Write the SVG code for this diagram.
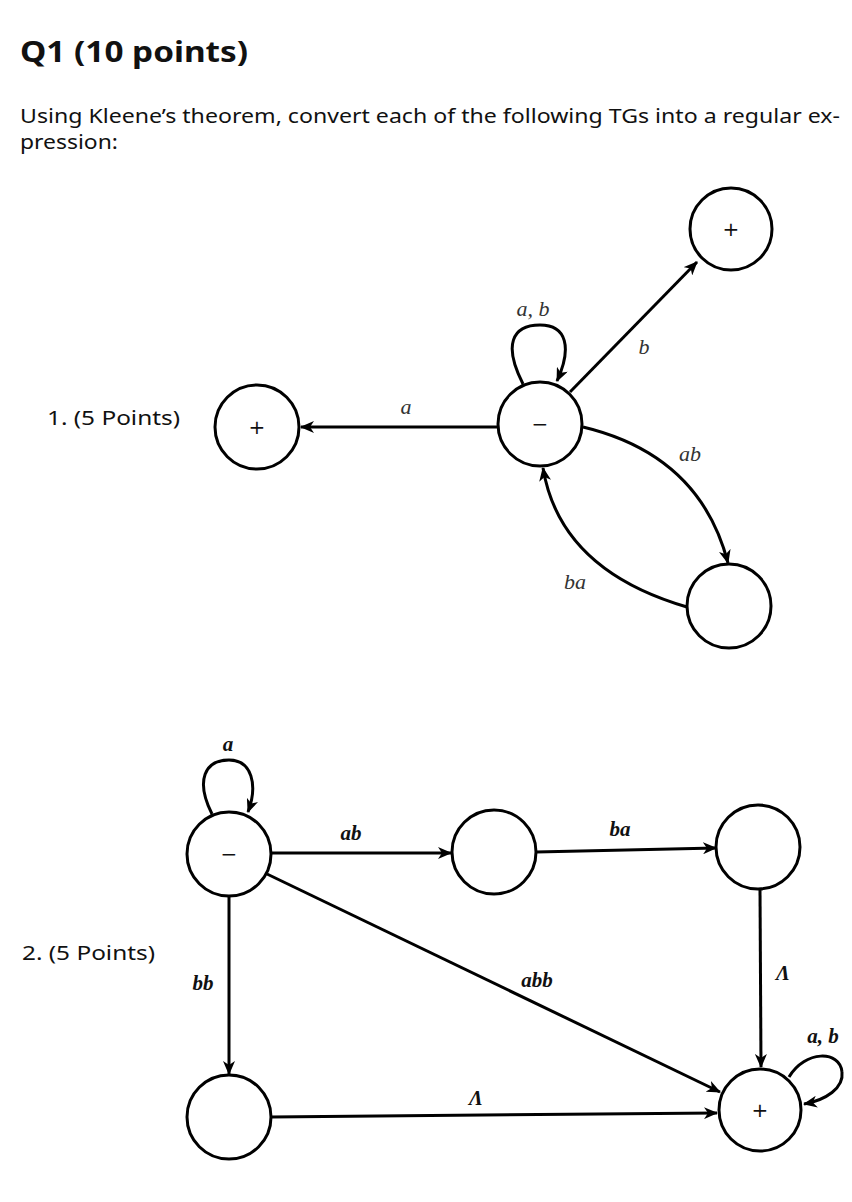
<svg xmlns="http://www.w3.org/2000/svg" width="852" height="1202" viewBox="0 0 852 1202">
<style>
.node{fill:#fff;stroke:#000;stroke-width:3}
.edge{fill:none;stroke:#000;stroke-width:3}
.hd{font-family:"Noto Sans","Open Sans",sans-serif;fill:#111}
.lab{font-family:"Liberation Serif",serif;font-style:italic;font-size:22px;fill:#333}
.lab2{font-family:"Liberation Serif",serif;font-style:italic;font-weight:bold;font-size:21px;fill:#111}
.sym{font-family:"DejaVu Sans",sans-serif;font-size:20px;fill:#111;text-anchor:middle}
.q{font-family:"Noto Sans","Open Sans",sans-serif;font-size:19px;fill:#111}
</style>
<defs>
<marker id="arr" viewBox="0 0 14 12" refX="13" refY="6" markerWidth="14" markerHeight="12" markerUnits="userSpaceOnUse" orient="auto">
<path d="M0,0 L14,6 L0,12 L4,6 z" fill="#000"/>
</marker>
</defs>
<rect width="852" height="1202" fill="#fff"/>
<text class="hd" x="20" y="62" font-size="28" font-weight="bold" textLength="228" lengthAdjust="spacingAndGlyphs">Q1 (10 points)</text>
<text class="hd" x="20" y="123" font-size="19" textLength="820" lengthAdjust="spacingAndGlyphs">Using Kleene’s theorem, convert each of the following TGs into a regular ex-</text>
<text class="hd" x="20" y="149" font-size="19" textLength="98" lengthAdjust="spacingAndGlyphs">pression:</text>
<text class="q" x="47" y="425" textLength="133" lengthAdjust="spacingAndGlyphs">1. (5 Points)</text>
<text class="q" x="22" y="960" textLength="133" lengthAdjust="spacingAndGlyphs">2. (5 Points)</text>
<g id="connectors">
<path class="edge" d="M497,427 L301,427" marker-end="url(#arr)"/>
<path class="edge" d="M570,392 L697,262" marker-end="url(#arr)"/>
<path class="edge" d="M523,384 C503,345 512,325 540,325 C567,325 572,348 557,381" marker-end="url(#arr)"/>
<path class="edge" d="M583,427 Q700,455 728,563" marker-end="url(#arr)"/>
<path class="edge" d="M687,607 Q560,570 543,468" marker-end="url(#arr)"/>
<path class="edge" d="M212,814 C195,780 205,760 229,760 C252,760 258,785 248,812" marker-end="url(#arr)"/>
<path class="edge" d="M271,853 L451,853" marker-end="url(#arr)"/>
<path class="edge" d="M536,852 L716,848" marker-end="url(#arr)"/>
<path class="edge" d="M760,890 L761,1067" marker-end="url(#arr)"/>
<path class="edge" d="M267,874 L720,1092" marker-end="url(#arr)"/>
<path class="edge" d="M229,896 L229,1074" marker-end="url(#arr)"/>
<path class="edge" d="M271,1117 L717,1113" marker-end="url(#arr)"/>
<path class="edge" d="M789,1077 C805,1050 840,1050 842,1072 C844,1088 826,1100 804,1104" marker-end="url(#arr)"/>
</g>
<g id="labels">
<text class="lab" x="406" y="414" text-anchor="middle">a</text>
<text class="lab" x="533" y="316" text-anchor="middle">a, b</text>
<text class="lab" x="644" y="354" text-anchor="middle">b</text>
<text class="lab" x="690" y="461" text-anchor="middle">ab</text>
<text class="lab" x="575" y="589" text-anchor="middle">ba</text>
<text class="lab2" x="228" y="751" text-anchor="middle">a</text>
<text class="lab2" x="351" y="840" text-anchor="middle">ab</text>
<text class="lab2" x="620" y="836" text-anchor="middle">ba</text>
<text class="lab2" x="783" y="980" text-anchor="middle" font-size="16" font-weight="normal">Λ</text>
<text class="lab2" x="203" y="990" text-anchor="middle">bb</text>
<text class="lab2" x="537" y="987" text-anchor="middle">abb</text>
<text class="lab2" x="476" y="1105" text-anchor="middle" font-size="16" font-weight="normal">Λ</text>
<text class="lab2" x="823" y="1043" text-anchor="middle">a, b</text>
</g>
<g id="n1-plus-top"><circle class="node" cx="731" cy="229" r="41"/><text class="sym" x="731" y="236">+</text></g>
<g id="n1-start"><circle class="node" cx="540" cy="424" r="42"/><text class="sym" x="540" y="431">−</text></g>
<g id="n1-plus-left"><circle class="node" cx="257" cy="427" r="42"/><text class="sym" x="257" y="434">+</text></g>
<g id="n1-bottom"><circle class="node" cx="729" cy="606" r="42"/></g>
<g id="n2-start"><circle class="node" cx="229" cy="854" r="42"/><text class="sym" x="229" y="861">−</text></g>
<g id="n2-mid"><circle class="node" cx="494" cy="852" r="42"/></g>
<g id="n2-right"><circle class="node" cx="758" cy="847" r="42"/></g>
<g id="n2-bottomleft"><circle class="node" cx="229" cy="1117" r="42"/></g>
<g id="n2-final"><circle class="node" cx="760" cy="1110" r="41"/><text class="sym" x="760" y="1117">+</text></g>
</svg>
